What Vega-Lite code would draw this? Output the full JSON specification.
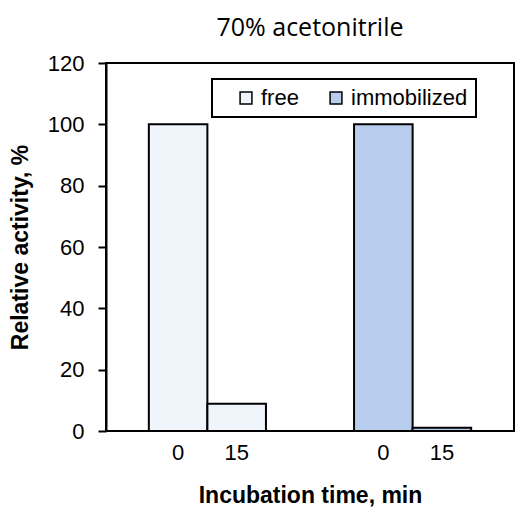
{
  "$schema": "https://vega.github.io/schema/vega-lite/v6.json",
  "width": 408,
  "height": 368,
  "autosize": {"type": "none"},
  "padding": {"left": 106, "top": 63, "right": 9, "bottom": 80},
  "background": "white",
  "title": {
    "text": "70% acetonitrile",
    "font": "Open Sans",
    "fontSize": 25,
    "fontWeight": "normal",
    "color": "black",
    "anchor": "middle",
    "offset": 11
  },
  "data": {
    "values": [
      {"group": "free", "time": "0", "activity": 100},
      {"group": "free", "time": "15", "activity": 8.9},
      {"group": "immobilized", "time": "0", "activity": 100},
      {"group": "immobilized", "time": "15", "activity": 1.1}
    ]
  },
  "encoding": {
    "x": {
      "field": "group",
      "type": "nominal",
      "sort": ["free", "immobilized"],
      "scale": {"paddingInner": 0.4293, "paddingOuter": 0.2087},
      "axis": {
        "labels": false,
        "ticks": false,
        "domain": false,
        "title": "Incubation time, min",
        "titleFont": "Liberation Sans",
        "titleFontSize": 23,
        "titleFontWeight": "bold",
        "titleColor": "black",
        "titlePadding": 53
      }
    },
    "xOffset": {
      "field": "time",
      "type": "nominal",
      "sort": ["0", "15"],
      "scale": {"paddingInner": 0, "paddingOuter": 0}
    }
  },
  "layer": [
    {
      "mark": {"type": "bar", "stroke": "black", "strokeWidth": 2},
      "encoding": {
        "y": {
          "field": "activity",
          "type": "quantitative",
          "scale": {"domain": [0, 120], "nice": false},
          "axis": {
            "values": [0, 20, 40, 60, 80, 100, 120],
            "grid": false,
            "tickSize": 8,
            "tickWidth": 2,
            "tickColor": "black",
            "domainColor": "black",
            "domainWidth": 2,
            "labelFont": "Liberation Sans",
            "labelFontSize": 22,
            "labelColor": "black",
            "labelPadding": 14,
            "title": "Relative activity, %",
            "titleFont": "Liberation Sans",
            "titleFontSize": 23,
            "titleFontWeight": "bold",
            "titleColor": "black",
            "titlePadding": 15
          }
        },
        "color": {
          "field": "group",
          "type": "nominal",
          "sort": ["free", "immobilized"],
          "scale": {"range": ["#f0f4fb", "#b9cdee"]},
          "legend": {
            "title": null,
            "orient": "none",
            "legendX": 106,
            "legendY": 16,
            "direction": "horizontal",
            "labelFont": "Liberation Sans",
            "labelFontSize": 22,
            "labelColor": "black",
            "labelOffset": 4,
            "symbolType": "square",
            "symbolSize": 140,
            "symbolStrokeColor": "black",
            "symbolStrokeWidth": 1.5,
            "symbolOffset": 15,
            "columnPadding": 11,
            "padding": 8,
            "strokeColor": "black",
            "fillColor": "white"
          }
        }
      }
    },
    {
      "mark": {"type": "text", "baseline": "top", "dy": 12, "font": "Liberation Sans", "fontSize": 22, "color": "black"},
      "encoding": {
        "y": {"datum": 0},
        "text": {"field": "time"}
      }
    }
  ],
  "config": {
    "view": {"stroke": "black", "strokeWidth": 2},
    "legend": {"strokeWidth": 2}
  }
}
